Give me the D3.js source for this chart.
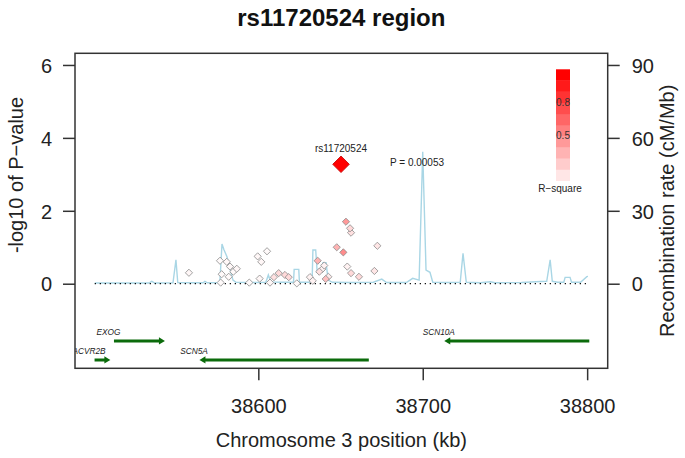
<!DOCTYPE html>
<html><head><meta charset="utf-8">
<script src="https://cdn.jsdelivr.net/npm/d3@7"></script>
<style>body{margin:0;background:#fff} text{font-family:"Liberation Sans",Arial,sans-serif}</style>
</head><body><svg id="c" width="685" height="458"></svg>
<script>
// ---- data ----
const snpPos = [38557.8, 38576.7, 38580.8, 38577.7, 38582.8, 38584.8, 38586.9, 38582.0, 38577.1, 38599.6, 38601.8, 38605.3, 38594.5, 38600.8, 38607.1, 38609.5, 38612.4, 38616.2, 38618.5, 38623.4, 38631.4, 38633.1, 38636.1, 38637.1, 38638.9, 38640.1, 38641.0, 38642.6, 38647.7, 38651.7, 38653.3, 38655.8, 38656.4, 38654.1, 38656.4, 38661.2, 38672.4, 38670.6];
const snpLogP = [0.30, 0.63, 0.60, 0.26, 0.47, 0.33, 0.41, 0.19, 0.03, 0.75, 0.60, 0.89, 0.03, 0.14, 0.03, 0.18, 0.29, 0.24, 0.18, 0.01, 0.18, 0.08, 0.63, 0.33, 0.40, 0.50, 0.13, 0.19, 1.00, 0.86, 1.70, 1.52, 1.40, 0.47, 0.29, 0.19, 1.04, 0.35];
const snpR2 = [0.03, 0.02, 0.03, 0.02, 0.03, 0.02, 0.03, 0.02, 0.02, 0.03, 0.03, 0.02, 0.02, 0.03, 0.03, 0.12, 0.15, 0.15, 0.15, 0.02, 0.05, 0.05, 0.30, 0.12, 0.05, 0.05, 0.25, 0.08, 0.30, 0.45, 0.40, 0.15, 0.12, 0.05, 0.15, 0.15, 0.10, 0.10];
const leadName = "rs11720524";
const leadPos = 38650.3;
const leadP = 0.00053;

const recPos = [38500.5, 38515, 38533.5, 38535.2, 38537, 38548.1, 38549.9, 38551.0, 38560, 38566.5, 38567.5, 38569, 38576.6, 38577.9, 38579.1, 38581.0, 38582.8, 38584.6, 38586.4, 38598, 38604.6, 38606.1, 38607.6, 38615, 38621.4, 38621.8, 38624.6, 38625.0, 38632.7, 38633.2, 38634.9, 38635.8, 38638.8, 38639.3, 38641.2, 38642.5, 38645, 38655, 38670, 38675.1, 38678, 38690, 38693.9, 38697.8, 38700.0, 38702.0, 38704.4, 38706.1, 38715, 38722.8, 38724.5, 38726.5, 38735, 38741, 38744, 38760, 38772, 38775.4, 38777.5, 38778.8, 38782, 38785.8, 38786.6, 38789.6, 38790.5, 38796, 38799.8, 38800.5];
const recRate = [0.3, 0.3, 0.3, 1.0, 0.3, 0.4, 9.8, 0.5, 0.4, 0.4, 1.0, 0.4, 0.5, 16.3, 14.0, 11.0, 6.0, 1.5, 0.6, 0.5, 0.6, 3.6, 0.7, 0.6, 0.6, 5.9, 5.9, 0.6, 0.6, 13.9, 13.9, 4.8, 4.8, 8.6, 8.6, 1.5, 0.6, 0.5, 0.6, 1.9, 0.5, 0.5, 2.2, 1.5, 54.3, 5.6, 4.7, 0.6, 0.5, 0.6, 12.5, 0.6, 0.4, 0.8, 0.4, 0.5, 0.9, 1.0, 9.8, 1.0, 0.6, 0.6, 2.6, 2.6, 0.6, 0.6, 2.9, 3.0];

const geneNames = ["EXOG", "ACVR2B", "SCN5A", "SCN10A"];
const geneStart = [38512.2, 38500.4, 38564.2, 38713.1];
const geneEnd = [38543.2, 38510.0, 38667.2, 38801.3];
const geneStrand = ["+", "+", "-", "-"];
const geneRow = [1, 2, 2, 1];

const xTicks = [38600, 38700, 38800];
const yTicks = [0, 2, 4, 6];
const recTicks = [0, 30, 60, 90];
const legendSteps = [0.1, 0.2, 0.3, 0.4, 0.5, 0.6, 0.7, 0.8, 0.9, 1.0];
const legendLabels = [0.8, 0.5];

// ---- layout ----
const svg = d3.select("#c");
const W = 685, H = 458;
const L = 75, R = 607.7, T = 53.3, B = 368.3;
svg.append("rect").attr("width", W).attr("height", H).attr("fill", "#fff");

const xRange = [38500.5, 38800.5];
const xPad = (xRange[1] - xRange[0]) * 0.04;
const x = d3.scaleLinear().domain([xRange[0] - xPad, xRange[1] + xPad]).range([L, R]);
const yLim = [-2, 6];
const yPad = (yLim[1] - yLim[0]) * 0.04;
const y = d3.scaleLinear().domain([yLim[0] - yPad, yLim[1] + yPad]).range([B, T]);
const recScale = 15;
const yRec = d3.scaleLinear().domain([(yLim[0] - yPad) * recScale, (yLim[1] + yPad) * recScale]).range([B, T]);
const red = d3.interpolateRgb("#ffffff", "#ff0000");

svg.append("clipPath").attr("id", "clip").append("rect")
  .attr("x", L).attr("y", T).attr("width", R - L).attr("height", B - T);
const plot = svg.append("g").attr("clip-path", "url(#clip)");

// recombination line
const recData = recPos.map((p, i) => [p, recRate[i]]);
plot.append("path").datum(recData)
  .attr("d", d3.line().x(d => x(d[0])).y(d => yRec(d[1])))
  .attr("fill", "none").attr("stroke", "#a9d6e5").attr("stroke-width", 1.4);

// dotted zero line
plot.append("line").attr("x1", x(xRange[0])).attr("x2", x(xRange[1]))
  .attr("y1", y(0)).attr("y2", y(0))
  .attr("stroke", "#000").attr("stroke-width", 1.2).attr("stroke-dasharray", "1.2,3.8");

// SNPs
const diamond = (cx, cy, r) => `M${cx},${cy - r}L${cx + r},${cy}L${cx},${cy + r}L${cx - r},${cy}Z`;
const snps = snpPos.map((p, i) => ({ p, v: snpLogP[i], r2: snpR2[i] })).sort((a, b) => a.r2 - b.r2);
plot.selectAll("path.snp").data(snps).enter().append("path")
  .attr("class", "snp")
  .attr("d", d => diamond(x(d.p), y(d.v), 3.6))
  .attr("fill", d => red(d.r2))
  .attr("stroke", "#8a8a8a").attr("stroke-width", 0.8);

// lead SNP
const lx = x(leadPos), ly = y(-Math.log10(leadP));
plot.append("path").attr("d", diamond(lx, ly, 8.3))
  .attr("fill", "#ff0000").attr("stroke", "#c00000").attr("stroke-width", 0.8);
svg.append("text").attr("x", lx).attr("y", ly - 12).attr("text-anchor", "middle")
  .attr("font-size", 10).attr("fill", "#222").text(leadName);
svg.append("text").attr("x", lx + 49).attr("y", ly + 2).attr("text-anchor", "start")
  .attr("font-size", 10).attr("fill", "#222").text("P = " + leadP.toFixed(5));

// genes
const rowY = r => -1.05 - 0.52 * r;
const green = "#0b6b0b";
geneNames.forEach((g, i) => {
  const gy = y(rowY(geneRow[i]));
  const xs = x(geneStart[i]), xe = x(geneEnd[i]);
  const head = 6, hw = 3.6;
  if (geneStrand[i] === "+") {
    plot.append("line").attr("x1", xs).attr("x2", xe - head + 1).attr("y1", gy).attr("y2", gy)
      .attr("stroke", green).attr("stroke-width", 3);
    plot.append("path").attr("d", `M${xe},${gy}L${xe - head},${gy - hw}L${xe - head},${gy + hw}Z`).attr("fill", green);
  } else {
    plot.append("line").attr("x1", xs + head - 1).attr("x2", xe).attr("y1", gy).attr("y2", gy)
      .attr("stroke", green).attr("stroke-width", 3);
    plot.append("path").attr("d", `M${xs},${gy}L${xs + head},${gy - hw}L${xs + head},${gy + hw}Z`).attr("fill", green);
  }
  plot.append("text").attr("x", xs - 5.5).attr("y", gy - 5.5).attr("text-anchor", "middle")
    .attr("font-size", 8.3).attr("font-style", "italic").attr("fill", "#222").text(g);
});

// legend
const lgX = 556, lgW = 14, lgTop = 69.3, lgBot = 180.7;
const lg = d3.scaleLinear().domain([0, 1]).range([lgBot, lgTop]);
const stepH = (lgBot - lgTop) / legendSteps.length;
svg.selectAll("rect.lg").data(legendSteps).enter().append("rect")
  .attr("x", lgX).attr("width", lgW)
  .attr("y", d => lg(d)).attr("height", stepH + 0.3)
  .attr("fill", d => red(d));
legendLabels.forEach(v => {
  svg.append("text").attr("x", lgX + lgW / 2).attr("y", lg(v) + 14).attr("text-anchor", "middle")
    .attr("font-size", 10).attr("fill", "#333").text(v.toFixed(1));
});
svg.append("text").attr("x", lgX + 4).attr("y", lgBot + 11.5).attr("text-anchor", "middle")
  .attr("font-size", 10).attr("fill", "#222").text("R\u2212square");

// box
svg.append("rect").attr("x", L).attr("y", T).attr("width", R - L).attr("height", B - T)
  .attr("fill", "none").attr("stroke", "#333").attr("stroke-width", 1.5);

// axes
const axCol = "#333";
const gx = svg.append("g").attr("transform", `translate(0,${B})`)
  .call(d3.axisBottom(x).tickValues(xTicks).tickSize(12).tickFormat(d3.format("d")));
gx.selectAll("text").attr("y", 45).attr("dy", 0);
const gy = svg.append("g").attr("transform", `translate(${L},0)`)
  .call(d3.axisLeft(y).tickValues(yTicks).tickSize(12).tickPadding(11));
gy.selectAll("text").attr("dy", "0.36em");
const gr = svg.append("g").attr("transform", `translate(${R},0)`)
  .call(d3.axisRight(yRec).tickValues(recTicks).tickSize(12).tickPadding(12));
gr.selectAll("text").attr("dy", "0.36em");
[gx, gy, gr].forEach(g => {
  g.select(".domain").remove();
  g.selectAll("line").attr("stroke", axCol).attr("stroke-width", 1.5);
  g.selectAll("text").attr("font-size", 20).attr("fill", "#222")
    .attr("font-family", '"Liberation Sans",Arial,sans-serif');
});

// titles
svg.append("text").attr("x", (L + R) / 2).attr("y", 26).attr("text-anchor", "middle")
  .attr("font-size", 24).attr("font-weight", "bold").attr("fill", "#111").text("rs11720524 region");
svg.append("text").attr("x", (L + R) / 2).attr("y", 447).attr("text-anchor", "middle")
  .attr("font-size", 20).attr("fill", "#222").text("Chromosome 3 position (kb)");
svg.append("text").attr("transform", `translate(23,175) rotate(-90)`).attr("text-anchor", "middle")
  .attr("font-size", 20).attr("fill", "#222").text("-log10 of P\u2212value");
svg.append("text").attr("transform", `translate(674,${(T + B) / 2}) rotate(-90)`).attr("text-anchor", "middle")
  .attr("font-size", 20).attr("fill", "#222").text("Recombination rate (cM/Mb)");
</script></body></html>
